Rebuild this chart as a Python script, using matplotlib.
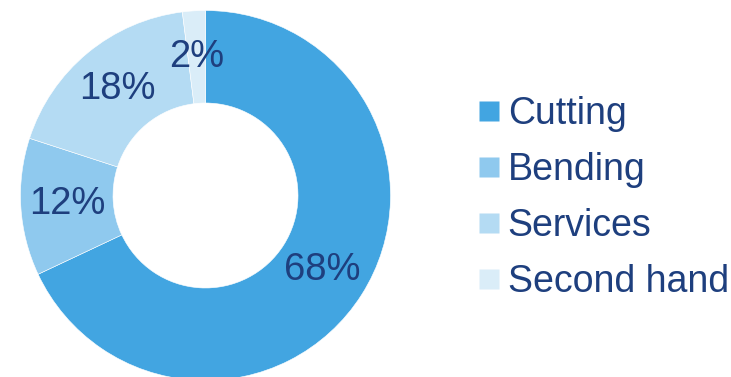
import matplotlib.pyplot as plt
from matplotlib.lines import Line2D

# Market share by segment
segments = ['Cutting', 'Bending', 'Services', 'Second hand']
shares = [68, 12, 18, 2]
colors = ['#42A5E1', '#8FC9EE', '#B4DBF3', '#DAEDF8']
text_color = '#1E3F7E'

plt.rcParams['font.family'] = ['Liberation Sans', 'DejaVu Sans']

fig = plt.figure(figsize=(7.31, 3.77), dpi=100)
W, H = 731, 377
cx, cy, r = 205.5, 377 - 195.5, 185
ax = fig.add_axes([(cx - r) / W, (cy - r) / H, 2 * r / W, 2 * r / H])

wedges, texts, autotexts = ax.pie(
    shares, colors=colors, startangle=90, counterclock=False, radius=1,
    autopct='%d%%', pctdistance=0.75,
    wedgeprops=dict(width=0.5, edgecolor='white', linewidth=0.4),
    textprops=dict(color=text_color, fontsize=27.5))
ax.set_xlim(-1, 1)
ax.set_ylim(-1, 1)
ax.set_aspect('equal')
ax.axis('off')

# Legend on the right
handles = [Line2D([], [], marker='s', linestyle='none', markersize=14.5,
                  markerfacecolor=c, markeredgecolor='none') for c in colors]
leg = fig.legend(handles, segments, loc='center left',
                 bbox_to_anchor=(478 / W, (377 - 198) / H), frameon=False,
                 fontsize=27, handletextpad=0.19, labelspacing=0.54,
                 handlelength=0.6, borderaxespad=0, borderpad=0)
for t in leg.get_texts():
    t.set_color(text_color)

plt.savefig('out.png', dpi=100, facecolor='white')
